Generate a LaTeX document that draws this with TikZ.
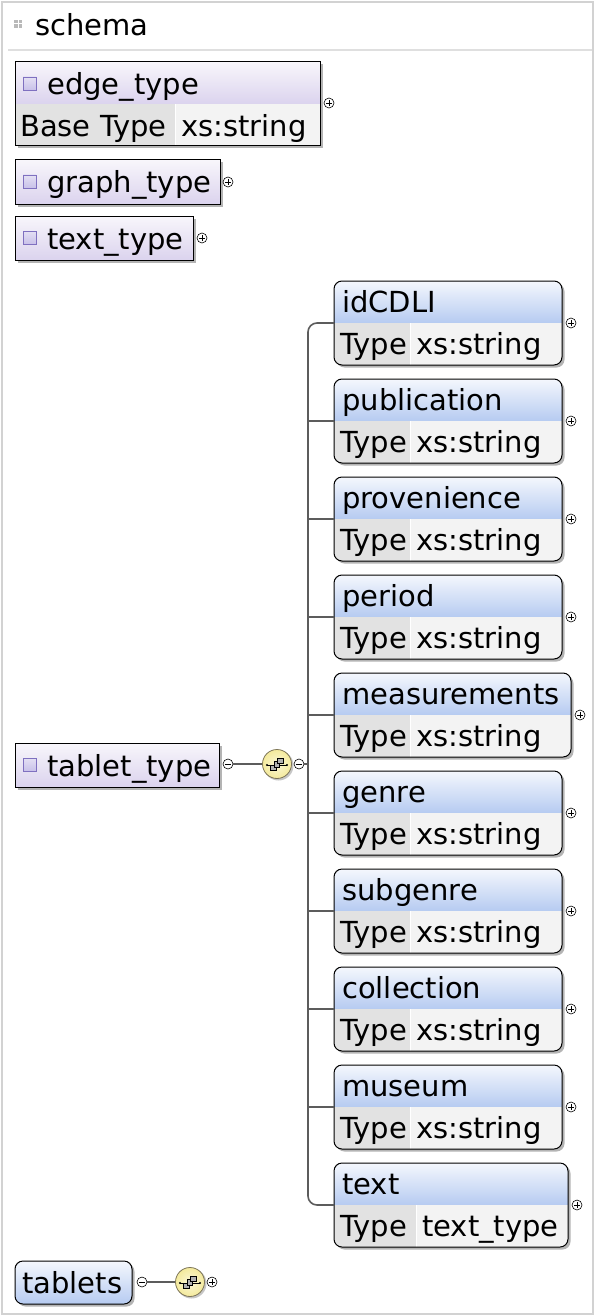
\documentclass[tikz,border=0pt]{standalone}
\usepackage{fontspec}
\setmainfont{DejaVu Sans}
\definecolor{lavtop}{HTML}{F8F6FB}
\definecolor{lavbot}{HTML}{DBD3EE}
\definecolor{bluetop}{HTML}{F4F7FD}
\definecolor{bluebot}{HTML}{B6CBF1}
\definecolor{typegray}{HTML}{E2E2E2}
\definecolor{valgray}{HTML}{F3F3F3}
\definecolor{framegray}{HTML}{D2D2D2}
\definecolor{conngray}{HTML}{5C5C5C}
\definecolor{iconpurple}{HTML}{7F70C0}
\definecolor{iconfill}{HTML}{C9C1E9}
\definecolor{shadowgray}{HTML}{B4B4B4}
\definecolor{seqfill}{HTML}{F4EA9C}
\definecolor{seqline}{HTML}{7E7658}
\tikzset{
  txt/.style={anchor=base west, inner sep=0pt, font=\fontsize{29}{31}\selectfont},
  boxline/.style={draw=black, line width=1pt},
  conn/.style={draw=conngray, line width=1.6pt},
  plusc/.style={circle, draw=black, fill=white, line width=0.6pt, minimum size=10pt, inner sep=0pt,
    path picture={\draw[line width=0.6pt]
      ([xshift=-2.6pt]path picture bounding box.center) -- ([xshift=2.6pt]path picture bounding box.center)
      ([yshift=-2.6pt]path picture bounding box.center) -- ([yshift=2.6pt]path picture bounding box.center);}},
  minusc/.style={circle, draw=black, fill=white, line width=0.6pt, minimum size=10pt, inner sep=0pt,
    path picture={\draw[line width=0.6pt]
      ([xshift=-2.6pt]path picture bounding box.center) -- ([xshift=2.6pt]path picture bounding box.center);}},
  seqc/.style={circle, draw=seqline, line width=0.8pt, inner color=white!60!seqfill, outer color=seqfill, minimum size=29pt, inner sep=0pt},
  smallsq/.style={draw=black, line width=0.5pt, fill=gray!60},
  purpicon/.style={top color=iconfill!50, bottom color=iconfill, draw=iconpurple, line width=0.8pt},
}
% element with a type row
\newcommand\elem[6]{%
  \fill[shadowgray, rounded corners=8pt] (336.5,#2+2.5) rectangle (#3+2.5,#2+86.5);
  \begin{scope}
    \clip[rounded corners=8pt] (334,#2) rectangle (#3,#2+84);
    \shade[top color=bluetop, bottom color=bluebot] (334,#2) rectangle (#3,#2+42);
    \fill[typegray] (334,#2+42) rectangle (#4,#2+84);
    \fill[valgray] (#4,#2+42) rectangle (#3,#2+84);
    \draw[white, line width=1pt] (#4,#2+42) -- (#4,#2+84);
  \end{scope}
  \draw[boxline, rounded corners=8pt] (334,#2) rectangle (#3,#2+84);
  \node[txt] (#1) at (342,#2+31) {#5};
  \node[txt] (#1-type) at (340,#2+73) {Type};
  \node[txt] (#1-val) at (#4+6,#2+73) {#6};
  \coordinate (#1-in) at (334,#2+42);
  \node[plusc] (#1-plus) at (#3+9,#2+42) {};
}
% simple type box
\newcommand\stype[4]{%
  \fill[shadowgray] (17.5,#2+2.5) rectangle (#3+2.5,#2+46.5);
  \shade[top color=lavtop, bottom color=lavbot] (15,#2) rectangle (#3,#2+44);
  \draw[boxline] (15,#2) rectangle (#3,#2+44);
  \shade[purpicon] (23,#2+15) rectangle (36,#2+28);
  \node[txt] (#1) at (47,#2+33) {#4};
}
% sequence icon
\newcommand\seqicon[3]{%
  \fill[gray!45] (#2+1.5,#3+1.5) circle (15pt);
  \node[seqc] (#1) at (#2,#3) {};
  \draw[line width=0.7pt] (#2-10,#3+1) -- (#2+10,#3+1);
  \fill (#2-10,#3+1) circle (1.1pt) (#2+10,#3+1) circle (1.1pt);
  \draw[smallsq] (#2-6.5,#3+1) rectangle (#2-1,#3+6.5);
  \draw[smallsq] (#2-3,#3-2.5) rectangle (#2+2.5,#3+3);
  \draw[smallsq] (#2+0.5,#3-6) rectangle (#2+6,#3-0.5);
}
\begin{document}
\begin{tikzpicture}[x=1pt, y=-1pt]
\useasboundingbox (0,0) rectangle (595,1316);
\fill[white] (0,0) rectangle (595,1316);
% frame
\draw[framegray, line width=2pt] (2,2) rectangle (593,1314);
\draw[gray!25, line width=2.5pt] (8,50) -- (592,50);
% schema header
\foreach \dx/\dy in {0/0,4.5/0,0/4.5,4.5/4.5}
  \fill[gray!55] (14+\dx,20+\dy) rectangle (17.5+\dx,23.5+\dy);
\node[txt] (schema) at (35,36) {schema};

% edge_type
\fill[shadowgray] (17.5,64.5) rectangle (322.5,148.5);
\shade[top color=lavtop, bottom color=lavbot] (15,62) rectangle (320,104);
\fill[typegray] (15,104) rectangle (175,146);
\fill[valgray] (175,104) rectangle (320,146);
\draw[white, line width=1pt] (175,104) -- (175,146);
\draw[boxline] (15,62) rectangle (320,146);
\shade[purpicon] (23,77) rectangle (36,90);
\node[txt] (edge) at (47,95) {edge\_type};
\node[txt] (edge-bt) at (20,137) {Base Type};
\node[txt] (edge-val) at (181,137) {xs:string};
\node[plusc] (edge-plus) at (329,103) {};

% graph_type, text_type
\stype{graph}{160}{220}{graph\_type}
\node[plusc] (graph-plus) at (228,182) {};
\stype{texttype}{216}{193}{text\_type}
\node[plusc] (texttype-plus) at (202,238) {};

% tablet_type
\stype{tablet}{743}{219}{tablet\_type}
\node[minusc] (tablet-minus) at (228,764) {};
\seqicon{seq1}{277}{764}
\node[minusc] (seq1-minus) at (299,764) {};
\draw[conn] (tablet-minus) -- (seq1);
\draw[conn] (seq1-minus.east) -- (308,764);

% children
\elem{idcdli}{281}{562}{410}{idCDLI}{xs:string}
\elem{publication}{379}{562}{410}{publication}{xs:string}
\elem{provenience}{477}{562}{410}{provenience}{xs:string}
\elem{period}{575}{562}{410}{period}{xs:string}
\elem{measurements}{673}{571}{410}{measurements}{xs:string}
\elem{genre}{771}{562}{410}{genre}{xs:string}
\elem{subgenre}{869}{562}{410}{subgenre}{xs:string}
\elem{collection}{967}{562}{410}{collection}{xs:string}
\elem{museum}{1065}{562}{410}{museum}{xs:string}
\elem{text}{1163}{568}{416}{text}{text\_type}

% connectors of the sequence
\draw[conn, rounded corners=9pt] (idcdli-in) -- (308,323) -- (308,1205) -- (text-in);
\foreach \n/\y in {publication/421,provenience/519,period/617,measurements/715,genre/813,subgenre/911,collection/1009,museum/1107}
  \draw[conn] (308,\y) -- (\n-in);

% tablets
\fill[shadowgray, rounded corners=8pt] (17.5,1263.5) rectangle (134.5,1306.5);
\shade[top color=bluetop, bottom color=bluebot, rounded corners=8pt] (15,1261) rectangle (132,1304);
\draw[boxline, rounded corners=8pt] (15,1261) rectangle (132,1304);
\node[txt] (tablets) at (22,1293) {tablets};
\node[minusc] (tablets-minus) at (142,1282) {};
\seqicon{seq2}{190}{1282}
\node[plusc] (seq2-plus) at (212,1282) {};
\draw[conn] (tablets-minus) -- (seq2);
\end{tikzpicture}
\end{document}
